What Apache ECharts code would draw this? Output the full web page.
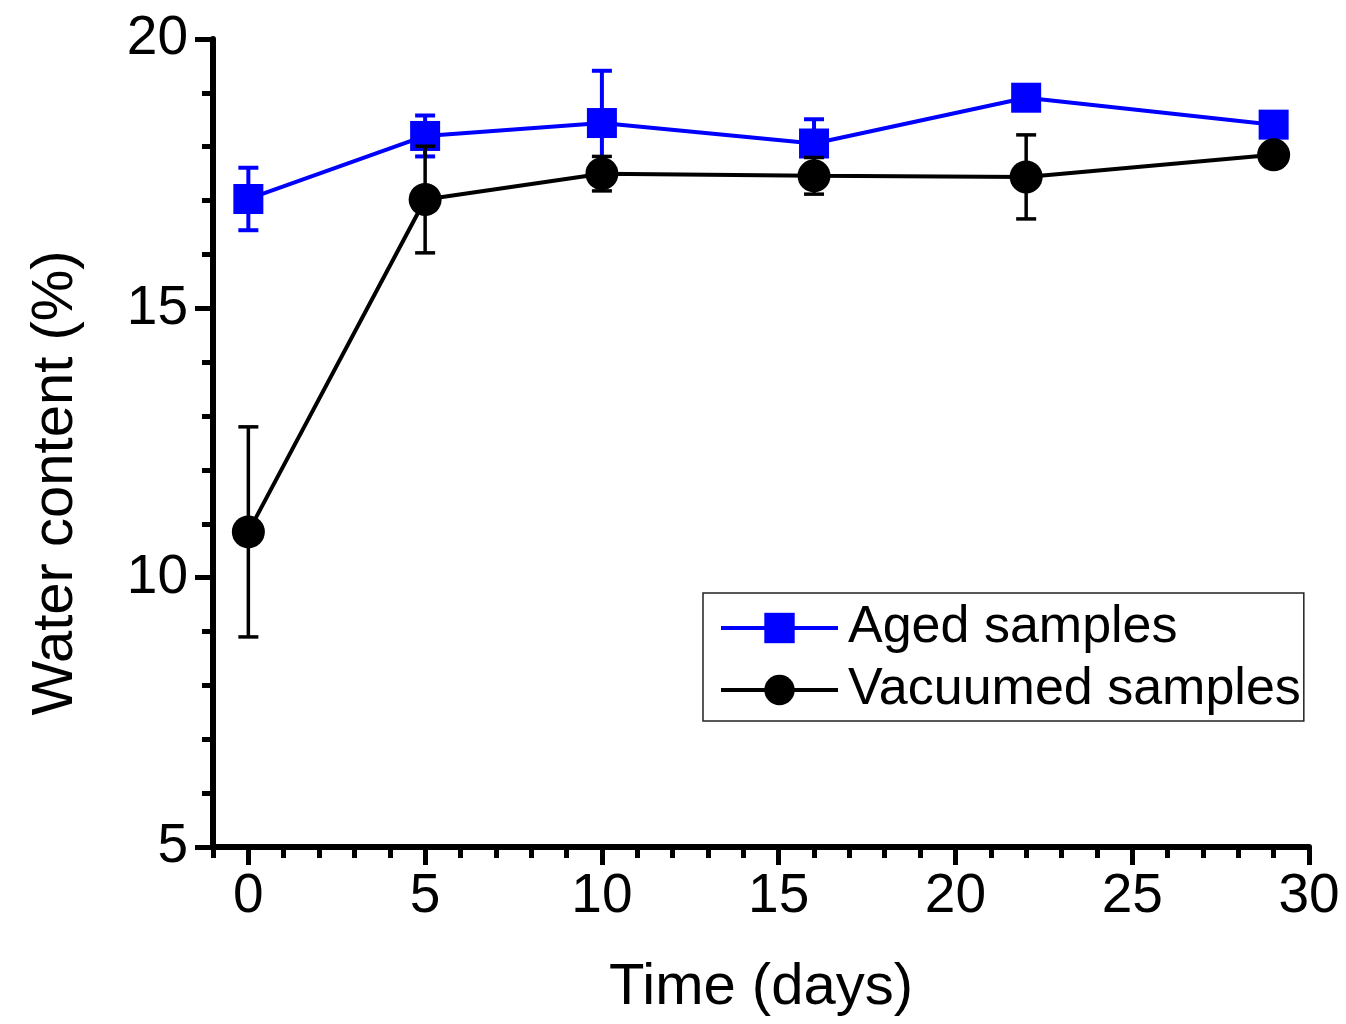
<!DOCTYPE html>
<html>
<head>
<meta charset="utf-8">
<script src="https://cdn.jsdelivr.net/npm/echarts@6/dist/echarts.min.js"></script>
<style>
html,body{margin:0;padding:0;background:#fff;}
#chart{width:1346px;height:1024px;}
</style>
</head>
<body>
<div id="chart"></div>
<script>
// ---- data ----
var days = [0, 5, 10, 16, 22, 29];
var agedMean = [17.03, 18.20, 18.44, 18.06, 18.91, 18.41];
var agedSD = [0.58, 0.38, 0.97, 0.45, 0.2, 0.2];
var vacMean = [10.85, 17.02, 17.50, 17.46, 17.44, 17.85];
var vacSD = [1.95, 0.99, 0.32, 0.34, 0.78, 0.2];
var xMajorTicks = [0, 5, 10, 15, 20, 25, 30];
var seriesNames = ['Aged samples', 'Vacuumed samples'];

var FONT = 'Liberation Sans, Arial, sans-serif';
var BLUE = '#0000ff';
var BLACK = '#000000';

function pairs(xs, ys) { return xs.map(function (x, i) { return [x, ys[i]]; }); }
function triples(xs, ys, es) { return xs.map(function (x, i) { return [x, ys[i], es[i]]; }); }

function errRender(color, width) {
  return function (params, api) {
    var x = api.value(0), y = api.value(1), e = api.value(2);
    if (!e) return null;
    var top = api.coord([x, y + e]);
    var bot = api.coord([x, y - e]);
    var hw = 10;
    var st = { stroke: color, lineWidth: width };
    return {
      type: 'group',
      children: [
        { type: 'line', shape: { x1: top[0], y1: top[1], x2: bot[0], y2: bot[1] }, style: st },
        { type: 'line', shape: { x1: top[0] - hw, y1: top[1], x2: top[0] + hw, y2: top[1] }, style: st },
        { type: 'line', shape: { x1: bot[0] - hw, y1: bot[1], x2: bot[0] + hw, y2: bot[1] }, style: st }
      ]
    };
  };
}

var chart = echarts.init(document.getElementById('chart'), null, { renderer: 'canvas' });
var option = {
  backgroundColor: '#ffffff',
  animation: false,
  grid: { left: 213, right: 37, top: 39, bottom: 177, containLabel: false },
  legend: {
    data: seriesNames,
    orient: 'vertical',
    left: 703,
    top: 593,
    itemWidth: 117,
    itemHeight: 38,
    itemGap: 10,
    padding: [9, 3, 5, 16],
    borderColor: '#222',
    borderWidth: 1.5,
    borderRadius: 0,
    lineStyle: { width: 4 },
    textStyle: { fontFamily: FONT, fontSize: 52, color: BLACK, lineHeight: 52, padding: [0, 0, 0, 5] }
  },
  xAxis: [
    {
      type: 'value', min: -1, max: 30, position: 'bottom',
      name: 'Time (days)', nameLocation: 'middle', nameGap: 112,
      nameTextStyle: { fontFamily: FONT, fontSize: 58, color: BLACK },
      axisLine: { show: true, onZero: false, lineStyle: { color: BLACK, width: 6 } },
      axisTick: { show: true, customValues: xMajorTicks, length: 18, lineStyle: { color: BLACK, width: 5 } },
      axisLabel: { show: true, customValues: xMajorTicks, fontFamily: FONT, fontSize: 55, color: BLACK, margin: 22 },
      splitLine: { show: false }
    },
    {
      type: 'value', min: -1, max: 30, interval: 1, position: 'bottom',
      axisLine: { show: false, onZero: false },
      axisTick: { show: true, length: 11, lineStyle: { color: BLACK, width: 5 } },
      axisLabel: { show: false },
      splitLine: { show: false }
    }
  ],
  yAxis: {
    type: 'value', min: 5, max: 20, interval: 5,
    name: 'Water content (%)', nameLocation: 'middle', nameGap: 128,
    nameTextStyle: { fontFamily: FONT, fontSize: 58, color: BLACK, padding: [0, 80, 0, 0] },
    axisLine: { show: true, onZero: false, lineStyle: { color: BLACK, width: 6 } },
    axisTick: { show: true, length: 18, lineStyle: { color: BLACK, width: 5 } },
    minorTick: { show: true, splitNumber: 5, length: 11, lineStyle: { color: BLACK, width: 5 } },
    axisLabel: { fontFamily: FONT, fontSize: 55, color: BLACK, margin: 25 },
    splitLine: { show: false }
  },
  series: [
    {
      name: 'agedErr', type: 'custom', xAxisIndex: 0, z: 1,
      renderItem: errRender(BLUE, 4),
      data: triples(days, agedMean, agedSD)
    },
    {
      name: seriesNames[0], type: 'line', xAxisIndex: 0, z: 2,
      data: pairs(days, agedMean),
      symbol: 'rect', symbolSize: 30,
      lineStyle: { color: BLUE, width: 4 },
      itemStyle: { color: BLUE }
    },
    {
      name: 'vacErr', type: 'custom', xAxisIndex: 0, z: 3,
      renderItem: errRender(BLACK, 3.5),
      data: triples(days, vacMean, vacSD)
    },
    {
      name: seriesNames[1], type: 'line', xAxisIndex: 0, z: 4,
      data: pairs(days, vacMean),
      symbol: 'circle', symbolSize: 33,
      lineStyle: { color: BLACK, width: 4 },
      itemStyle: { color: BLACK }
    }
  ]
};
chart.setOption(option);
</script>
</body>
</html>
